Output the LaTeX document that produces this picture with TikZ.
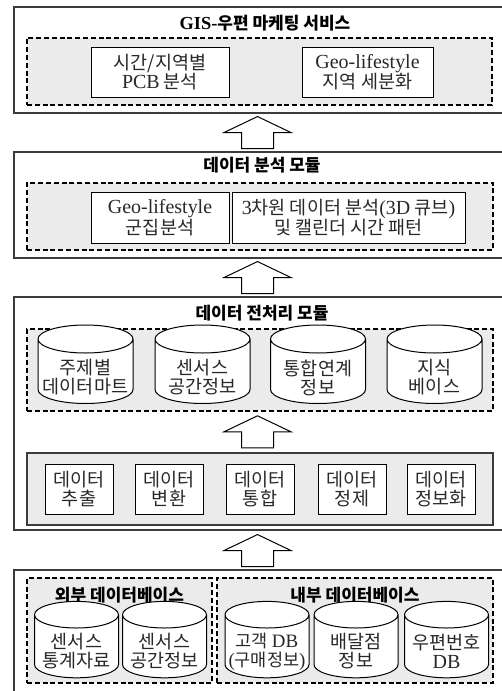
\documentclass[tikz,border=0pt]{standalone}
\usepackage{fontspec}
\setmainfont{Liberation Serif}[Scale=1.08]
\newfontfamily\kr{Noto Sans CJK KR}
\usetikzlibrary{shapes.geometric,calc}
\definecolor{panel}{RGB}{235,235,235}
\definecolor{edge}{RGB}{60,60,60}
\definecolor{ink}{RGB}{40,40,40}
\newcommand\cylbody[1]{\phantom{\rule{#1}{36pt}}}
\tikzset{
  outerbox/.style={draw=edge, line width=1.1pt, fill=white, inner sep=0pt},
  dashbox/.style={draw=black, line width=1.6pt, dash pattern=on 5pt off 2.8pt, fill=panel, inner sep=0pt},
  graybox/.style={draw=edge, line width=1.3pt, fill=panel, inner sep=0pt},
  itembox/.style={draw=black, line width=1pt, fill=white, align=center, inner sep=0pt, text=ink,
    font=\kr\fontsize{18.5}{19}\selectfont},
  dbcyl/.style={cylinder, shape border rotate=90, draw=black, line width=1pt, fill=white,
    aspect=0.35, inner sep=0pt},
  cyltext/.style={align=center, inner sep=0pt, text=ink, font=\kr\fontsize{18.5}{19}\selectfont},
  titletext/.style={inner sep=0pt, text=black, font=\kr\bfseries\fontsize{17}{18}\selectfont},
  blockarrow/.style={draw=black, line width=1pt, fill=white, line join=miter},
}
\begin{document}
\begin{tikzpicture}[x=1pt,y=-1pt]
\clip (0,0) rectangle (502,691);
\fill[white] (0,0) rectangle (502,691);

% ---------- GIS service ----------
\node[outerbox, minimum width=496, minimum height=106] (svc) at (262,60) {};
\node[titletext] (svct) at (265,23) {{\rmfamily GIS-}우편 마케팅 서비스};
\node[dashbox, minimum width=465, minimum height=67] (svcd) at (259.5,71.5) {};
\node[itembox, minimum width=138, minimum height=50] (s1) at (160,72) {시간/지역별\\{\rmfamily PCB} 분석};
\node[itembox, minimum width=131, minimum height=50] (s2) at (367.5,72) {{\rmfamily Geo-lifestyle}\\지역 세분화};

% ---------- analysis ----------
\node[outerbox, minimum width=496, minimum height=106] (ana) at (262,205) {};
\node[titletext] (anat) at (262,165) {데이터 분석 모듈};
\node[dashbox, minimum width=466, minimum height=67] (anad) at (260,216.5) {};
\node[itembox, minimum width=138, minimum height=51] (a1) at (160,217.5) {{\rmfamily Geo-lifestyle}\\군집분석};
\node[itembox, minimum width=233, minimum height=51] (a2) at (348.5,217.5) {{\rmfamily 3}차원 데이터 분석{\rmfamily (3D} 큐브{\rmfamily )}\\및 캘린더 시간 패턴};

% ---------- preprocessing ----------
\node[outerbox, minimum width=496, minimum height=233] (pre) at (262,413.5) {};
\node[titletext] (pret) at (262,313) {데이터 전처리 모듈};
\node[dashbox, minimum width=466, minimum height=82] (pred) at (260,370) {};
\node[dbcyl, minimum width=95, minimum height=65] (c1) at (85.5,371.5) {\cylbody{80pt}};
\node[dbcyl, minimum width=95, minimum height=65] (c2) at (202.5,371.5) {\cylbody{80pt}};
\node[dbcyl, minimum width=95, minimum height=65] (c3) at (318,371.5) {\cylbody{80pt}};
\node[dbcyl, minimum width=95, minimum height=65] (c4) at (434.5,371.5) {\cylbody{80pt}};
\node[cyltext] (c1t) at ($(c1.center)+(0,6)$) {주제별\\데이터마트};
\node[cyltext] (c2t) at ($(c2.center)+(0,6)$) {센서스\\공간정보};
\node[cyltext] (c3t) at ($(c3.center)+(0,6)$) {통합연계\\정보};
\node[cyltext] (c4t) at ($(c4.center)+(0,6)$) {지식\\베이스};
\node[graybox, minimum width=466, minimum height=72] (steps) at (260,489) {};
\node[itembox, minimum width=68, minimum height=50] (p1) at (79,489) {데이터\\추출};
\node[itembox, minimum width=68, minimum height=50] (p2) at (169,489) {데이터\\변환};
\node[itembox, minimum width=68, minimum height=50] (p3) at (260,489) {데이터\\통합};
\node[itembox, minimum width=68, minimum height=50] (p4) at (352,489) {데이터\\정제};
\node[itembox, minimum width=68, minimum height=50] (p5) at (441,489) {데이터\\정보화};

% ---------- databases ----------
\node[outerbox, minimum width=496, minimum height=124] (dbs) at (262,632) {};
\node[dashbox, minimum width=185, minimum height=105] (ext) at (119.5,630.5) {};
\node[dashbox, minimum width=276, minimum height=105] (int) at (355,630.5) {};
\node[titletext] (extt) at (119.5,595) {외부 데이터베이스};
\node[titletext] (intt) at (355,595) {내부 데이터베이스};
\node[dbcyl, minimum width=84, minimum height=63] (e1) at (76.5,646.5) {\cylbody{76pt}};
\node[dbcyl, minimum width=84, minimum height=63] (e2) at (164.5,646.5) {\cylbody{76pt}};
\node[dbcyl, minimum width=84, minimum height=63] (i1) at (267,646.5) {\cylbody{76pt}};
\node[dbcyl, minimum width=84, minimum height=63] (i2) at (356,646.5) {\cylbody{76pt}};
\node[dbcyl, minimum width=84, minimum height=63] (i3) at (446.5,646.5) {\cylbody{76pt}};
\node[cyltext] (e1t) at ($(e1.center)+(0,5)$) {센서스\\통계자료};
\node[cyltext] (e2t) at ($(e2.center)+(0,5)$) {센서스\\공간정보};
\node[cyltext, font=\kr\fontsize{17.5}{19}\selectfont] (i1t) at ($(i1.center)+(0,5)$) {고객 {\rmfamily DB}\\{\rmfamily (}구매정보{\rmfamily )}};
\node[cyltext] (i2t) at ($(i2.center)+(0,5)$) {배달점\\정보};
\node[cyltext] (i3t) at ($(i3.center)+(0,5)$) {우편번호\\{\rmfamily DB}};

% ---------- block arrows ----------
\coordinate (ax) at (257.5,0);
\coordinate (t1) at ($(ax |- svc.south)+(0,3)$);
\coordinate (t2) at ($(ax |- ana.south)+(0,3)$);
\coordinate (t3) at ($(ax |- pred.south)+(0,4)$);
\coordinate (t4) at ($(ax |- pre.south)+(0,4)$);
\foreach \t in {t1,t2,t3,t4}{
  \draw[blockarrow] (\t) -- ++(33.5,16) -- ++(-17.5,0) -- ++(0,16) -- ++(-32,0)
     -- ++(0,-16) -- ++(-17.5,0) -- cycle;
}
\end{tikzpicture}
\end{document}
